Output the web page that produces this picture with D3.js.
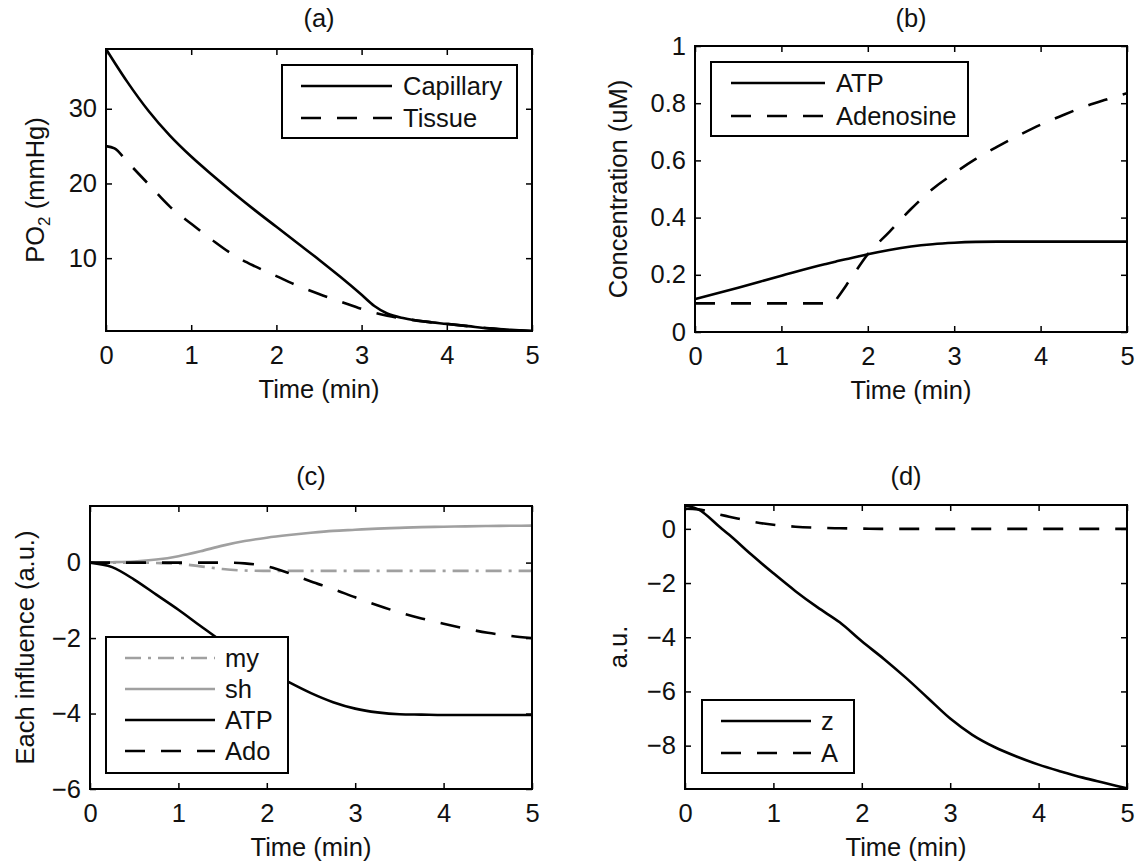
<!DOCTYPE html>
<html><head><meta charset="utf-8">
<script src="https://cdn.jsdelivr.net/npm/d3@7"></script>
<style>
body{margin:0;background:#fff}
text{font-family:"Liberation Sans",Arial,Helvetica,sans-serif;fill:#111}
</style>
</head><body>
<svg id="chart" width="1147" height="861"></svg>
<script>
// ---------- shared ----------
const timeTicks = [0,1,2,3,4,5];

// ---------- panel (a) ----------
const tA = [0,0.1,0.25,0.5,0.75,1,1.25,1.5,1.75,2,2.25,2.5,2.75,3,3.15,3.3,3.5,3.75,4,4.25,4.5,4.75,5];
const capillary = [38,36.2,33.6,29.7,26.4,23.6,21.1,18.7,16.4,14.2,12.0,9.8,7.5,5.1,3.6,2.6,1.95,1.5,1.2,0.9,0.6,0.4,0.25];
const tissue = [25,24.7,22.9,19.9,16.9,14.6,12.4,10.4,8.9,7.6,6.3,5.2,4.2,3.2,2.7,2.3,1.9,1.5,1.2,0.9,0.6,0.4,0.25];
const ticksA = [10,20,30];

// ---------- panel (b) ----------
const tB = [0,0.5,1,1.5,1.6,1.65,1.8,2,2.25,2.5,2.75,3,3.25,3.5,3.75,4,4.25,4.5,4.75,5];
const atpB = [0.115,0.155,0.197,0.237,0.244,0.248,0.258,0.272,0.287,0.299,0.307,0.312,0.315,0.316,0.316,0.316,0.316,0.316,0.316,0.316];
const adenosine = [0.1,0.1,0.1,0.1,0.1,0.12,0.185,0.272,0.35,0.43,0.5,0.555,0.605,0.648,0.688,0.725,0.757,0.787,0.812,0.835];
const ticksB = [0,0.2,0.4,0.6,0.8,1];

// ---------- panel (c) ----------
const tC = [0,0.25,0.5,0.75,1,1.25,1.5,1.75,2,2.25,2.5,2.75,3,3.25,3.5,3.75,4,4.25,4.5,4.75,5];
const myo = [0,0,0,-0.01,-0.03,-0.1,-0.17,-0.21,-0.22,-0.22,-0.22,-0.22,-0.22,-0.22,-0.22,-0.22,-0.22,-0.22,-0.22,-0.22,-0.22];
const shear = [0,0.01,0.03,0.08,0.17,0.3,0.45,0.57,0.66,0.73,0.79,0.84,0.87,0.9,0.92,0.94,0.95,0.96,0.97,0.975,0.98];
const atpC = [0,-0.12,-0.45,-0.85,-1.25,-1.68,-2.1,-2.48,-2.85,-3.17,-3.46,-3.7,-3.87,-3.97,-4.02,-4.03,-4.04,-4.04,-4.04,-4.04,-4.04];
const adoC = [0,0,0,0,0,0,0,-0.02,-0.1,-0.28,-0.5,-0.7,-0.92,-1.13,-1.32,-1.48,-1.62,-1.75,-1.86,-1.94,-2.0];
const ticksC = [0,-2,-4,-6];

// ---------- panel (d) ----------
const tD = [0,0.15,0.4,0.5,0.75,1,1.25,1.5,1.75,2,2.25,2.5,2.75,3,3.25,3.5,3.75,4,4.25,4.5,4.75,5];
const zVals = [0.86,0.72,0.05,-0.22,-0.95,-1.64,-2.3,-2.9,-3.45,-4.15,-4.8,-5.5,-6.25,-7.0,-7.6,-8.05,-8.4,-8.7,-8.95,-9.18,-9.38,-9.58];
const aVals = [0.74,0.72,0.52,0.45,0.27,0.15,0.08,0.04,0.02,0.01,0,0,0,0,0,0,0,0,0,0,0,0];
const ticksD = [0,-2,-4,-6,-8];

// ---------- styles ----------
const BLACK = "#000", GRAY = "#a0a0a0";
const DASH = "20,16", DASHDOT = "16,7,3,7";
const FS = 25.5;

const svg = d3.select("#chart");
const fmtMinus = d => (d < 0 ? "\u2212" + Math.abs(d) : String(d));

function panel(o) {
  const g = svg.append("g");
  const x = d3.scaleLinear().domain([0,5]).range([o.l, o.r]);
  const y = d3.scaleLinear().domain(o.yd).range([o.b, o.t]);
  const cid = "clip-" + o.id;
  svg.append("clipPath").attr("id", cid).append("rect")
    .attr("x", o.l).attr("y", o.t).attr("width", o.r - o.l).attr("height", o.b - o.t);

  const line = d3.line().x(d => x(d[0])).y(d => y(d[1])).curve(d3.curveMonotoneX);
  o.series.forEach(s => {
    g.append("path")
      .datum(s.t.map((t,i) => [t, s.v[i]]))
      .attr("clip-path", `url(#${cid})`)
      .attr("d", line)
      .attr("fill", "none")
      .attr("stroke", s.color)
      .attr("stroke-width", 2.6)
      .attr("stroke-linejoin", "round")
      .attr("stroke-dasharray", s.dash || null);
  });

  const ax = [
    g.append("g").attr("transform", `translate(0,${o.b})`)
      .call(d3.axisBottom(x).tickValues(timeTicks).tickSizeInner(-6).tickSizeOuter(0).tickPadding(15).tickFormat(d3.format("d"))),
    g.append("g").attr("transform", `translate(0,${o.t})`)
      .call(d3.axisTop(x).tickValues(timeTicks).tickSizeInner(-6).tickSizeOuter(0).tickFormat("")),
    g.append("g").attr("transform", `translate(${o.l},0)`)
      .call(d3.axisLeft(y).tickValues(o.yt).tickSizeInner(-6).tickSizeOuter(0).tickPadding(9).tickFormat(o.yf || fmtMinus)),
    g.append("g").attr("transform", `translate(${o.r},0)`)
      .call(d3.axisRight(y).tickValues(o.yt).tickSizeInner(-6).tickSizeOuter(0).tickFormat(""))
  ];
  ax.forEach(a => {
    a.select(".domain").remove();
    a.selectAll("line").attr("stroke", "#000").attr("stroke-width", 1.5);
    a.selectAll("text").attr("font-size", FS).attr("font-family", "'Liberation Sans',Arial,sans-serif").attr("fill", "#111");
  });
  g.append("rect").attr("x", o.l).attr("y", o.t).attr("width", o.r - o.l).attr("height", o.b - o.t)
    .attr("fill", "none").attr("stroke", "#000").attr("stroke-width", 2);

  g.append("text").attr("x", (o.l + o.r) / 2).attr("y", o.titleY).attr("text-anchor", "middle")
    .attr("font-size", FS).text(o.title);
  g.append("text").attr("x", (o.l + o.r) / 2).attr("y", o.b + 67).attr("text-anchor", "middle")
    .attr("font-size", FS).text("Time (min)");
  const yl = g.append("text").attr("transform", `translate(${o.ylx},${(o.t + o.b) / 2}) rotate(-90)`)
    .attr("text-anchor", "middle").attr("font-size", FS);
  o.ylabel(yl);

  const L = o.legend;
  g.append("rect").attr("x", L.x).attr("y", L.y).attr("width", L.w).attr("height", L.h)
    .attr("fill", "#fff").attr("stroke", "#000").attr("stroke-width", 2);
  L.items.forEach((it, i) => {
    const yy = L.y0 + i * L.dy;
    g.append("line").attr("x1", L.x1).attr("x2", L.x2).attr("y1", yy).attr("y2", yy)
      .attr("stroke", it.color).attr("stroke-width", 2.6).attr("stroke-dasharray", it.dash || null);
    g.append("text").attr("x", L.tx).attr("y", yy).attr("dy", "0.35em").attr("font-size", FS).text(it.label);
  });
}

// (a)
panel({
  id: "a", l: 106, r: 532, t: 49, b: 331, yd: [0.25, 38], yt: ticksA, yf: d3.format("d"),
  title: "(a)", titleY: 27, ylx: 44,
  ylabel: t => { t.append("tspan").text("PO"); t.append("tspan").attr("font-size", 17).attr("dy", 6).text("2");
                 t.append("tspan").attr("dy", -6).text(" (mmHg)"); },
  series: [
    { t: tA, v: capillary, color: BLACK },
    { t: tA, v: tissue, color: BLACK, dash: DASH }
  ],
  legend: { x: 282, y: 65, w: 235, h: 73, x1: 301, x2: 392, tx: 403, y0: 86, dy: 32,
    items: [ { label: "Capillary", color: BLACK }, { label: "Tissue", color: BLACK, dash: DASH } ] }
});

// (b)
panel({
  id: "b", l: 695, r: 1127, t: 46, b: 332, yd: [0, 1], yt: ticksB, yf: d => d === 0 || d === 1 ? String(d) : d3.format(".1f")(d),
  title: "(b)", titleY: 27, ylx: 627,
  ylabel: t => t.text("Concentration (uM)"),
  series: [
    { t: tB, v: atpB, color: BLACK },
    { t: tB, v: adenosine, color: BLACK, dash: DASH }
  ],
  legend: { x: 711, y: 62, w: 257, h: 74, x1: 731, x2: 825, tx: 836, y0: 83, dy: 33,
    items: [ { label: "ATP", color: BLACK }, { label: "Adenosine", color: BLACK, dash: DASH } ] }
});

// (c)
panel({
  id: "c", l: 90, r: 532, t: 506, b: 789, yd: [-6, 1.5], yt: ticksC,
  title: "(c)", titleY: 485, ylx: 34,
  ylabel: t => t.text("Each influence (a.u.)"),
  series: [
    { t: tC, v: myo, color: GRAY, dash: DASHDOT },
    { t: tC, v: shear, color: GRAY },
    { t: tC, v: atpC, color: BLACK },
    { t: tC, v: adoC, color: BLACK, dash: DASH }
  ],
  legend: { x: 106, y: 637, w: 182, h: 136, x1: 125, x2: 215, tx: 225, y0: 658, dy: 31,
    items: [ { label: "my", color: GRAY, dash: DASHDOT }, { label: "sh", color: GRAY },
             { label: "ATP", color: BLACK }, { label: "Ado", color: BLACK, dash: DASH } ] }
});

// (d)
panel({
  id: "d", l: 685, r: 1127, t: 505, b: 789, yd: [-9.6, 0.88], yt: ticksD,
  title: "(d)", titleY: 485, ylx: 627,
  ylabel: t => t.text("a.u."),
  series: [
    { t: tD, v: zVals, color: BLACK },
    { t: tD, v: aVals, color: BLACK, dash: DASH }
  ],
  legend: { x: 702, y: 700, w: 152, h: 73, x1: 721, x2: 811, tx: 821, y0: 721, dy: 32,
    items: [ { label: "z", color: BLACK }, { label: "A", color: BLACK, dash: DASH } ] }
});
</script>
</body></html>
